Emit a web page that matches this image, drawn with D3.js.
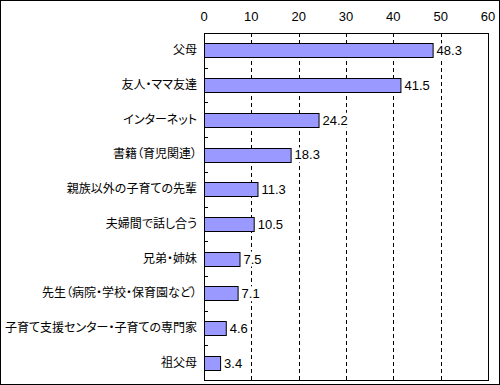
<!DOCTYPE html>
<html lang="ja">
<head>
<meta charset="UTF-8">
<title>chart</title>
<style>
body{margin:0;background:#fff;}
svg text{font-family:"Noto Sans CJK JP","DejaVu Sans",sans-serif;fill:#000;}
svg text.num{font-family:"Liberation Sans Narrow","Liberation Sans",sans-serif;}
svg text.cat{font-feature-settings:"palt";}
</style>
</head>
<body>
<script src="https://cdn.jsdelivr.net/npm/d3@7"></script>
<script>
var categories = ["父母","友人・ママ友達","インターネット","書籍（育児関連）","親族以外の子育ての先輩","夫婦間で話し合う","兄弟・姉妹","先生（病院・学校・保育園など）","子育て支援センター・子育ての専門家","祖父母"];
var values = [48.3,41.5,24.2,18.3,11.3,10.5,7.5,7.1,4.6,3.4];
var xTicks = [0,10,20,30,40,50,60];

var width = 500, height = 385;
var plotL = 204, plotR = 488, plotT = 33, plotB = 380;

var svg = d3.select('body').append('svg').attr('width',width).attr('height',height);

// outer frame
svg.append('rect').attr('x',0.5).attr('y',0.5).attr('width',width-1).attr('height',height-1)
    .attr('fill','#fff').attr('stroke','#000');

var x = d3.scaleLinear().domain([0,60]).range([plotL,plotR]);
var y = d3.scaleBand().domain(categories).range([plotT,plotB]).paddingInner(0.6).paddingOuter(0.3);
var band = d3.scaleBand().domain(categories).range([plotT,plotB]);

// dashed grid
svg.append('g').selectAll('line').data(xTicks.slice(1,-1)).enter().append('line')
    .attr('x1',function(d){return Math.round(x(d))+0.5}).attr('x2',function(d){return Math.round(x(d))+0.5})
    .attr('y1',plotT).attr('y2',plotB)
    .attr('stroke','#000').attr('stroke-dasharray','4,3');

// top tick labels
svg.append('g').selectAll('text').data(xTicks).enter().append('text')
    .attr('class','num')
    .attr('x',function(d){return x(d)}).attr('y',21)
    .attr('text-anchor','middle').attr('font-size',13).text(function(d){return d});

// category ticks (inward)
svg.append('g').selectAll('line').data(categories.slice(1)).enter().append('line')
    .attr('x1',plotL).attr('x2',plotL+4)
    .attr('y1',function(d){return Math.round(band(d))+0.5}).attr('y2',function(d){return Math.round(band(d))+0.5})
    .attr('stroke','#000');

// bars
svg.append('g').selectAll('rect').data(values).enter().append('rect')
    .attr('x',plotL+0.5)
    .attr('y',function(d,i){return Math.round(y(categories[i]))+0.5})
    .attr('width',function(d){return x(d)-plotL})
    .attr('height',Math.round(y.bandwidth()))
    .attr('fill','#9999ff').attr('stroke','#000');

// value labels with white background
var lab = svg.append('g').selectAll('g').data(values).enter().append('g');
var labBg = lab.append('rect').attr('fill','#fff');
var labTxt = lab.append('text').attr('class','num')
    .attr('x',function(d){return x(d)+4})
    .attr('y',function(d,i){return band(categories[i])+band.bandwidth()/2+5})
    .attr('font-size',13).text(function(d){return d.toFixed(1)});
labTxt.each(function(d,i){
    var b = this.getBBox();
    d3.select(labBg.nodes()[i]).attr('x',b.x-1).attr('y',b.y).attr('width',b.width+2).attr('height',b.height);
});

// category labels
svg.append('g').selectAll('text').data(categories).enter().append('text')
    .attr('class','cat')
    .attr('x',plotL-7)
    .attr('y',function(d){return band(d)+band.bandwidth()/2+4})
    .attr('text-anchor','end').attr('font-size',12).text(function(d){return d});

// plot border
svg.append('rect').attr('x',plotL+0.5).attr('y',plotT+0.5).attr('width',plotR-plotL).attr('height',plotB-plotT)
    .attr('fill','none').attr('stroke','#000');
</script>
</body>
</html>
